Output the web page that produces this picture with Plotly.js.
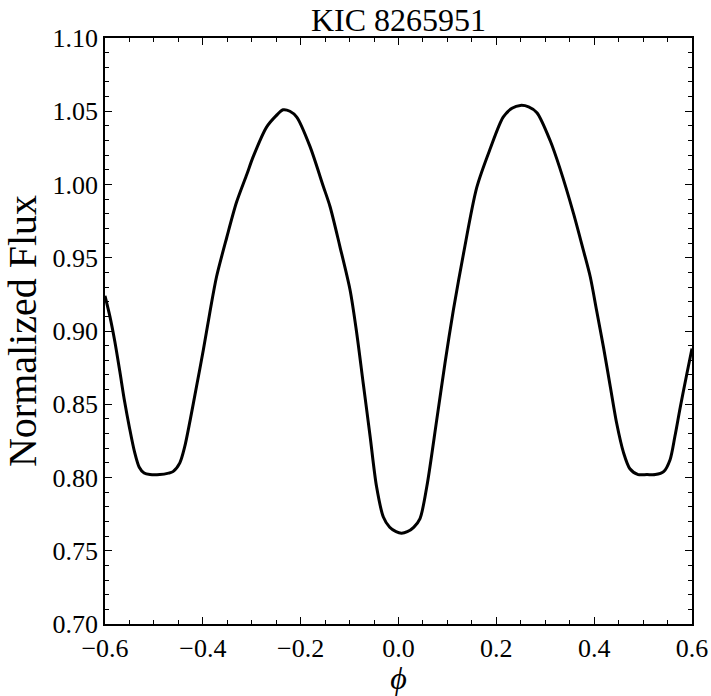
<!DOCTYPE html>
<html>
<head>
<meta charset="utf-8">
<script src="https://cdn.plot.ly/plotly-3.0.1.min.js"></script>
<style>html,body{margin:0;padding:0;background:#fff;}#chart{width:711px;height:696px;}</style>
</head>
<body>
<div id="chart"></div>
<script>
const phase = [-0.600, -0.590, -0.580, -0.570, -0.560, -0.550, -0.540, -0.530, -0.520, -0.508, -0.488, -0.470, -0.461, -0.447, -0.437, -0.426, -0.413, -0.399, -0.386, -0.372, -0.351, -0.331, -0.310, -0.297, -0.270, -0.250, -0.236, -0.222, -0.208, -0.181, -0.154, -0.140, -0.120, -0.099, -0.086, -0.072, -0.058, -0.045, -0.031, -0.018, -0.005, 0.006, 0.018, 0.031, 0.044, 0.058, 0.078, 0.095, 0.112, 0.133, 0.160, 0.187, 0.214, 0.232, 0.249, 0.266, 0.283, 0.310, 0.330, 0.358, 0.378, 0.392, 0.405, 0.419, 0.433, 0.446, 0.460, 0.473, 0.490, 0.508, 0.525, 0.542, 0.555, 0.565, 0.576, 0.589, 0.600];
const flux = [0.924, 0.910, 0.893, 0.873, 0.852, 0.834, 0.818, 0.807, 0.803, 0.802, 0.802, 0.803, 0.804, 0.810, 0.821, 0.839, 0.862, 0.887, 0.912, 0.937, 0.964, 0.988, 1.007, 1.019, 1.039, 1.047, 1.051, 1.050, 1.046, 1.026, 0.999, 0.985, 0.958, 0.928, 0.900, 0.864, 0.828, 0.794, 0.773, 0.766, 0.763, 0.762, 0.763, 0.766, 0.772, 0.794, 0.839, 0.878, 0.914, 0.953, 0.998, 1.024, 1.046, 1.052, 1.054, 1.053, 1.049, 1.030, 1.011, 0.980, 0.955, 0.937, 0.914, 0.889, 0.862, 0.837, 0.817, 0.806, 0.802, 0.802, 0.802, 0.804, 0.812, 0.828, 0.848, 0.870, 0.888];
const titleText = 'KIC 8265951';
const xTitle = '<i>ϕ</i>';
const yTitle = 'Normalized Flux';

const font = 'Liberation Serif, Times New Roman, serif';
const axisCommon = {
  showline: true, linecolor: '#000', linewidth: 1.8, mirror: 'ticks',
  ticks: 'inside', ticklen: 7, tickwidth: 1, tickcolor: '#000',
  showgrid: false, zeroline: false,
  tickfont: {family: font, size: 26, color: '#000'}
};
const data = [{
  x: phase, y: flux, type: 'scatter', mode: 'lines',
  line: {color: '#000', width: 3, shape: 'spline', smoothing: 0.8},
  hoverinfo: 'none'
}];
const layout = {
  width: 711, height: 696,
  margin: {l: 105, r: 19, t: 38, b: 72},
  paper_bgcolor: '#fff', plot_bgcolor: '#fff',
  showlegend: false,
  title: {text: titleText, font: {family: font, size: 32, color: '#000'}, xref: 'paper', x: 0.5, xanchor: 'center', yref: 'container', y: 0.972, yanchor: 'middle'},
  xaxis: Object.assign({}, axisCommon, {
    range: [-0.6, 0.6], tick0: -0.6, dtick: 0.2, tickformat: '.1f',
    minor: {ticks: 'inside', dtick: 0.05, tick0: -0.6, ticklen: 4, tickwidth: 1, tickcolor: '#000', showgrid: false},
    title: {text: xTitle, font: {family: font, size: 32, color: '#000'}, standoff: 10}
  }),
  yaxis: Object.assign({}, axisCommon, {
    range: [0.70, 1.10], tick0: 0.70, dtick: 0.05, tickformat: '.2f',
    minor: {ticks: 'inside', dtick: 0.01, tick0: 0.70, ticklen: 4, tickwidth: 1, tickcolor: '#000', showgrid: false},
    title: {text: yTitle, font: {family: font, size: 40, color: '#000'}, standoff: 4}
  })
};
Plotly.newPlot('chart', data, layout, {staticPlot: true, displayModeBar: false});
</script>
</body>
</html>
